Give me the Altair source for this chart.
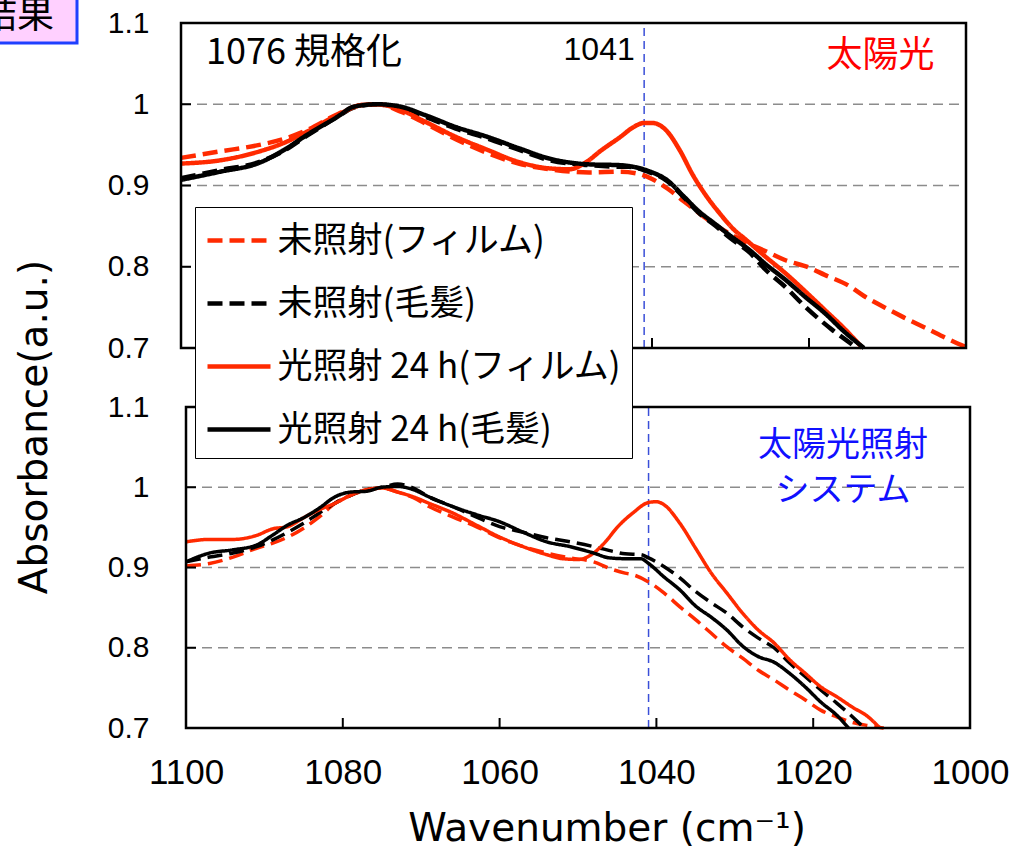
import altair as alt
import pandas as pd

# ---- series definitions ----
SERIES = ["未照射(フィルム)", "未照射(毛髪)", "光照射 24 h(フィルム)", "光照射 24 h(毛髪)"]
COLORS = ["#ff2a00", "#000000", "#ff2a00", "#000000"]
DASHES = [[15, 7], [15, 7], [1, 0], [1, 0]]

# ---- upper panel: 太陽光 ----
top_wn_film_before = [1100, 1095, 1090, 1087, 1084, 1080, 1077, 1075, 1072, 1069, 1065, 1061, 1057, 1053,
                      1048, 1044, 1042, 1040, 1038, 1036, 1034, 1032, 1030, 1028, 1025.5, 1023, 1020,
                      1018, 1015, 1013, 1010, 1008, 1005, 1002.5, 1000]
top_abs_film_before = [0.934, 0.942, 0.950, 0.957, 0.968, 0.988, 0.999, 1.000, 0.991, 0.977, 0.957, 0.940,
                       0.927, 0.920, 0.916, 0.917, 0.915, 0.908, 0.896, 0.881, 0.866, 0.852, 0.840, 0.830,
                       0.819, 0.808, 0.799, 0.790, 0.777, 0.764, 0.748, 0.738, 0.724, 0.712, 0.701]

top_wn_hair_before = [1100, 1095, 1090, 1087, 1084, 1080, 1078, 1075, 1072, 1069, 1065, 1061, 1057, 1053,
                      1048, 1044, 1043, 1040.5, 1038, 1036, 1034, 1032, 1030, 1027.5, 1025.5, 1023,
                      1020.5, 1017, 1014.5, 1014]
top_abs_hair_before = [0.909, 0.919, 0.929, 0.942, 0.961, 0.985, 0.996, 1.000, 0.995, 0.985, 0.970, 0.958,
                       0.944, 0.931, 0.925, 0.923, 0.923, 0.917, 0.905, 0.886, 0.866, 0.851, 0.835, 0.817,
                       0.796, 0.775, 0.751, 0.722, 0.704, 0.700]

top_wn_film_24h = [1100, 1095, 1090, 1087, 1084, 1080, 1077, 1075, 1072, 1069, 1065, 1061, 1057, 1053,
                   1050.5, 1048.5, 1046.5, 1044, 1042.5, 1041, 1040, 1038.2, 1036.5, 1034.8, 1033,
                   1031.4, 1029.7, 1028, 1025.5, 1023, 1020.4, 1018, 1015.3, 1013.2]
top_abs_film_24h = [0.927, 0.931, 0.942, 0.952, 0.966, 0.987, 0.999, 1.000, 0.993, 0.979, 0.960, 0.944,
                    0.929, 0.921, 0.920, 0.928, 0.943, 0.960, 0.971, 0.977, 0.977, 0.968, 0.944, 0.913,
                    0.886, 0.866, 0.847, 0.833, 0.812, 0.792, 0.769, 0.747, 0.722, 0.700]

top_wn_hair_24h = [1100, 1095, 1090, 1087, 1084, 1080, 1078, 1075, 1072, 1069, 1065, 1061, 1057, 1053,
                   1048, 1044, 1043, 1040.5, 1038, 1036, 1034, 1032, 1030, 1027.5, 1025.5, 1023,
                   1020.5, 1018, 1015.5, 1013]
top_abs_hair_24h = [0.907, 0.917, 0.928, 0.943, 0.962, 0.985, 0.997, 1.000, 0.997, 0.987, 0.972, 0.960,
                    0.946, 0.933, 0.926, 0.925, 0.924, 0.918, 0.906, 0.887, 0.868, 0.853, 0.838, 0.820,
                    0.803, 0.784, 0.763, 0.743, 0.720, 0.700]

# ---- lower panel: 太陽光照射システム ----
bot_wn_film_before = [1100, 1097, 1094, 1091, 1089, 1087, 1085, 1083, 1081, 1079, 1077, 1075, 1073, 1071,
                      1069, 1066, 1063, 1060, 1057, 1054, 1051, 1048, 1046, 1044, 1043, 1041, 1039, 1037,
                      1035, 1033, 1031, 1029, 1027, 1025, 1023, 1021, 1019, 1017, 1015, 1013, 1011]
bot_abs_film_before = [0.902, 0.905, 0.913, 0.924, 0.930, 0.938, 0.949, 0.963, 0.980, 0.990, 0.996, 0.999,
                       0.994, 0.987, 0.976, 0.963, 0.951, 0.937, 0.926, 0.918, 0.912, 0.907, 0.899, 0.893,
                       0.891, 0.882, 0.868, 0.851, 0.835, 0.818, 0.801, 0.787, 0.772, 0.760, 0.747, 0.735,
                       0.722, 0.714, 0.707, 0.703, 0.700]

bot_wn_hair_before = [1100, 1097, 1094, 1091, 1089, 1087, 1085, 1083, 1081, 1079, 1077, 1075, 1073, 1071,
                      1069, 1066, 1063, 1060, 1057, 1054, 1051, 1048, 1045.5, 1044, 1042, 1041, 1039, 1037,
                      1035, 1033, 1031, 1029, 1027, 1025, 1023, 1021, 1019, 1017, 1015, 1013.5]
bot_abs_hair_before = [0.907, 0.913, 0.918, 0.926, 0.934, 0.944, 0.955, 0.968, 0.980, 0.990, 0.997, 1.000,
                       1.004, 0.999, 0.988, 0.976, 0.963, 0.951, 0.944, 0.937, 0.932, 0.926, 0.920, 0.917,
                       0.916, 0.912, 0.901, 0.887, 0.870, 0.856, 0.843, 0.826, 0.812, 0.800, 0.781, 0.764,
                       0.747, 0.731, 0.714, 0.700]

bot_wn_film_24h = [1100, 1097, 1094, 1091, 1089, 1087, 1085, 1083, 1081, 1079, 1077, 1075, 1073, 1071,
                   1069, 1066, 1063, 1060, 1057, 1054, 1052, 1050, 1048, 1046.5, 1045, 1043, 1041, 1040,
                   1039, 1037, 1035, 1033, 1031, 1029, 1027, 1025, 1023, 1021, 1019, 1017, 1015, 1013,
                   1011.5]
bot_abs_film_24h = [0.932, 0.935, 0.935, 0.940, 0.948, 0.951, 0.962, 0.972, 0.980, 0.990, 0.997, 0.999,
                    0.994, 0.988, 0.980, 0.968, 0.953, 0.938, 0.926, 0.916, 0.911, 0.910, 0.918, 0.932,
                    0.950, 0.968, 0.981, 0.982, 0.978, 0.955, 0.924, 0.893, 0.868, 0.843, 0.822, 0.806,
                    0.785, 0.768, 0.751, 0.739, 0.726, 0.714, 0.700]

bot_wn_hair_24h = [1100, 1097, 1094, 1091, 1089, 1087, 1085, 1083, 1081, 1079, 1077, 1075, 1073, 1071,
                   1069, 1066, 1063, 1060, 1057, 1054, 1051, 1048, 1046, 1044, 1042, 1041, 1039, 1037,
                   1035, 1033, 1031, 1029, 1027, 1025, 1023, 1021, 1019, 1017, 1015.5]
bot_abs_hair_24h = [0.907, 0.918, 0.922, 0.928, 0.940, 0.953, 0.962, 0.974, 0.988, 0.994, 0.995, 1.000,
                    1.001, 0.997, 0.988, 0.976, 0.966, 0.957, 0.944, 0.932, 0.926, 0.918, 0.912, 0.911,
                    0.911, 0.905, 0.888, 0.872, 0.852, 0.838, 0.822, 0.802, 0.789, 0.782, 0.768, 0.751,
                    0.732, 0.716, 0.700]

# ---- axis values ----
Y_TICKS = [0.7, 0.8, 0.9, 1.0, 1.1]
GRID_Y = [0.8, 0.9, 1.0]
X_TICKS = [1100, 1080, 1060, 1040, 1020, 1000]
INNER_X_TICKS = [1080, 1060, 1040, 1020]
MARKER_WN = 1041

JP = "Noto Sans CJK JP"
LATIN = "Liberation Sans"
TITLE_FONT = "DejaVu Sans"


def long_table(pairs):
    rows = []
    for name, (wn, ab) in zip(SERIES, pairs):
        for w, a in zip(wn, ab):
            rows.append({"series": name, "wn": w, "abs": a})
    return pd.DataFrame(rows)


top_df = long_table([(top_wn_film_before, top_abs_film_before), (top_wn_hair_before, top_abs_hair_before),
                     (top_wn_film_24h, top_abs_film_24h), (top_wn_hair_24h, top_abs_hair_24h)])
bot_df = long_table([(bot_wn_film_before, bot_abs_film_before), (bot_wn_hair_before, bot_abs_hair_before),
                     (bot_wn_film_24h, bot_abs_film_24h), (bot_wn_hair_24h, bot_abs_hair_24h)])

legend = alt.Legend(
    title=None, orient="none", legendX=195, legendY=207,
    symbolType="M-1.5,0H1.5", symbolSize=1764, symbolStrokeWidth=4.5,
    symbolOffset=10.5, labelOffset=15,
    labelFont=JP, labelFontSize=35, labelColor="black", labelLimit=700,
    padding=10, rowPadding=21, fillColor="white", strokeColor="black",
    zindex=1,
)
color = alt.Color("series:N", scale=alt.Scale(domain=SERIES, range=COLORS), legend=legend)
dash = alt.StrokeDash("series:N", scale=alt.Scale(domain=SERIES, range=DASHES), legend=legend)

one_row = pd.DataFrame({"k": [0]})


def panel(df, x_range, y_range, line_width, y_label_pad, x_axis, notes):
    xs = alt.Scale(domain=[1100, 1000], range=x_range, nice=False, zero=False)
    ys = alt.Scale(domain=[0.7, 1.1], range=y_range, nice=False, zero=False)
    y_axis = alt.Axis(orient="left", offset=-x_range[0], values=Y_TICKS, format=".1~f",
                      labelFont=LATIN, labelFontSize=30, labelColor="black", labelPadding=y_label_pad,
                      labelFlush=False, labelOverlap=False,
                      ticks=False, tickSize=0, domain=False, grid=False, title=None)

    def xd(v):
        return alt.XDatum(v, axis=x_axis)

    def yd(v):
        return alt.YDatum(v, axis=y_axis)

    lines = alt.Chart(df).mark_line(strokeWidth=line_width, interpolate="monotone").encode(
        x=alt.X("wn:Q", scale=xs, axis=x_axis),
        y=alt.Y("abs:Q", scale=ys, axis=y_axis),
        color=color,
        strokeDash=dash,
    )

    grid = alt.Chart(pd.DataFrame({"g": GRID_Y})).mark_rule(
        color="#8c8c8c", strokeWidth=1.5, strokeDash=[10, 6]
    ).encode(x=xd(1100), x2=alt.X2Datum(1000), y=alt.Y("g:Q", axis=y_axis))

    marker = alt.Chart(one_row).mark_rule(
        color="#3a4fd8", strokeWidth=1.5, strokeDash=[8, 5]
    ).encode(x=xd(MARKER_WN), y=yd(0.7), y2=alt.Y2Datum(1.1))

    frame = alt.Chart(one_row).mark_rect(
        fillOpacity=0, stroke="black", strokeWidth=2.5
    ).encode(x=xd(1100), x2=alt.X2Datum(1000), y=yd(0.7), y2=alt.Y2Datum(1.1))

    y_ticks = alt.Chart(pd.DataFrame({"g": GRID_Y})).mark_rule(
        color="black", strokeWidth=2, x2Offset=10
    ).encode(x=xd(1100), x2=alt.X2Datum(1100), y=alt.Y("g:Q", axis=y_axis))

    x_ticks = alt.Chart(pd.DataFrame({"t": INNER_X_TICKS})).mark_rule(
        color="black", strokeWidth=2, y2Offset=-10
    ).encode(x=alt.X("t:Q", axis=x_axis), y=yd(0.7), y2=alt.Y2Datum(0.7))

    texts = [
        alt.Chart(one_row).mark_text(baseline="middle", **style).encode(x=xd(x), y=yd(y))
        for (x, y, style) in notes
    ]

    return alt.layer(grid, marker, lines, frame, y_ticks, x_ticks, *texts)


def overlay(text, x, y, size, **kw):
    return alt.Chart(one_row).mark_text(
        text=text, fontSize=size, baseline="middle", color="black", **kw
    ).encode(x=alt.value(x), y=alt.value(y))


bottom_x_axis = alt.Axis(orient="bottom", offset=-(851 - 728), values=X_TICKS, format="d",
                         labelFont=LATIN, labelFontSize=35, labelColor="black", labelPadding=27,
                         labelFlush=False, labelOverlap=False,
                         ticks=False, tickSize=0, domain=False, grid=False, title=None)

top_notes = [
    (1096.8, 1.063, dict(text="1076 規格化", font=JP, fontSize=36, align="left", color="black")),
    (1042.2, 1.067, dict(text="1041", font=LATIN, fontSize=32, align="right", color="black")),
    (1010.9, 1.059, dict(text="太陽光", font=JP, fontSize=36, align="center", color="#ff0000")),
]

bot_notes = [
    (1016.2, 1.0514, dict(text="太陽光照射", font=JP, fontSize=34, align="center", color="#1010ff")),
    (1016.2, 0.9953, dict(text="システム", font=JP, fontSize=34, align="center", color="#1010ff")),
]

top_layer = panel(top_df, [181, 966], [348, 23], 4.5, 32, None, top_notes)
bot_layer = panel(bot_df, [186, 970], [728, 407], 3.5, 37, bottom_x_axis, bot_notes)

# shared axis titles and the section tab, placed in canvas pixels
extras = alt.layer(
    overlay("Absorbance(a.u.)", 35, 427, 39, font=TITLE_FONT, angle=270, align="center"),
    overlay("Wavenumber (cm⁻¹)", 607, 829, 39, font=TITLE_FONT, align="center"),
    alt.Chart(one_row).mark_rect(fill="#ffd0ff", stroke="#1f3fff", strokeWidth=3)
    .encode(x=alt.value(-10), x2=alt.value(77), y=alt.value(-10), y2=alt.value(43)),
    overlay("結果", 54, 17, 37, font=JP, align="right"),
)

chart = (
    alt.layer(top_layer, alt.layer(bot_layer, extras))
    .resolve_scale(x="independent", y="independent")
    .properties(width=1021, height=851, padding=0, autosize=alt.AutoSizeParams(type="none"),
                background="white")
    .configure_view(strokeWidth=0)
)

chart.save("out.html", embed_options={"renderer": "svg", "actions": False})
